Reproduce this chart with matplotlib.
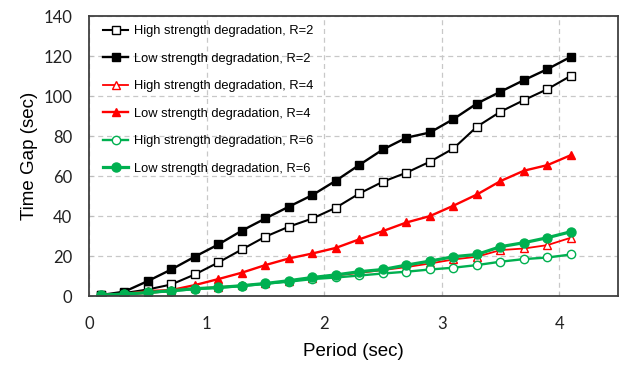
import matplotlib
matplotlib.use("Agg")
import matplotlib.pyplot as plt

# Period values (sec)
period = [0.1, 0.3, 0.5, 0.7, 0.9, 1.1, 1.3, 1.5, 1.7, 1.9, 2.1,
          2.3, 2.5, 2.7, 2.9, 3.1, 3.3, 3.5, 3.7, 3.9, 4.1]

# Time gap (sec)
high_r2 = [0.5, 1.5, 3.3, 5.8, 10.8, 16.8, 23.3, 29.7, 34.7, 38.8, 44.2,
           51.3, 57.2, 61.7, 67.2, 73.8, 84.7, 92.2, 98.0, 103.5, 110.2]
low_r2 = [0.5, 2.2, 7.5, 13.3, 19.7, 25.8, 32.7, 38.8, 44.7, 50.5, 57.7,
          65.6, 73.3, 79.2, 81.8, 88.5, 96.3, 102.2, 108.0, 113.5, 119.7]
high_r4 = [0.5, 0.8, 1.5, 2.5, 3.8, 4.5, 5.3, 6.3, 7.5, 9.0, 10.3,
           11.6, 13.0, 14.5, 16.3, 18.3, 19.7, 23.0, 23.8, 25.5, 29.2]
low_r4 = [0.5, 1.0, 2.5, 3.0, 5.5, 8.5, 11.7, 15.5, 18.8, 21.3, 24.1,
          28.4, 32.5, 36.8, 40.0, 45.2, 50.8, 57.5, 62.7, 65.5, 70.5]
high_r6 = [0.5, 1.0, 1.7, 2.5, 3.5, 4.2, 5.0, 6.2, 7.2, 8.5, 9.3,
           10.3, 11.3, 12.2, 13.3, 14.2, 15.5, 17.2, 18.5, 19.3, 20.8]
low_r6 = [0.5, 1.0, 1.8, 2.7, 3.7, 4.3, 5.2, 6.3, 7.7, 9.3, 10.6,
          12.2, 13.3, 15.5, 17.5, 19.7, 20.8, 24.7, 26.7, 29.2, 32.2]

labels = ["High strength degradation, R=2", "Low strength degradation, R=2",
          "High strength degradation, R=4", "Low strength degradation, R=4",
          "High strength degradation, R=6", "Low strength degradation, R=6"]

green = "#00B050"

fig = plt.figure(figsize=(6.22, 3.66), dpi=100)
ax = fig.add_axes([0.143, 0.191, 0.8506, 0.765])

ax.plot(period, high_r2, color="black", lw=1.5, marker="s", ms=6,
        mfc="white", mec="black", mew=1.0, label=labels[0])
ax.plot(period, low_r2, color="black", lw=1.7, marker="s", ms=6,
        mfc="black", mec="black", label=labels[1])
ax.plot(period, high_r4, color="red", lw=1.3, marker="^", ms=5.5,
        mfc="white", mec="red", mew=1.0, label=labels[2])
ax.plot(period, low_r4, color="red", lw=1.7, marker="^", ms=5.5,
        mfc="red", mec="red", label=labels[3])
ax.plot(period, high_r6, color=green, lw=1.7, marker="o", ms=6,
        mfc="white", mec=green, mew=1.0, label=labels[4])
ax.plot(period, low_r6, color=green, lw=2.3, marker="o", ms=6.5,
        mfc=green, mec=green, label=labels[5])

ax.set_xlim(0, 4.5)
ax.set_ylim(0, 140)
ax.set_xticks([0, 1, 2, 3, 4])
ax.set_yticks(range(0, 141, 20))
ax.grid(True, linestyle=(0, (4, 3)), color="#c8c8c8", lw=0.9)
ax.set_axisbelow(True)

for s in ax.spines.values():
    s.set_color("#404040")
    s.set_linewidth(1.3)

ax.tick_params(direction="in", length=3, color="#bbbbbb",
               labelsize=12, labelcolor="#222222")
ax.tick_params(axis="x", pad=14)
ax.tick_params(axis="y", pad=12)
for lab in ax.get_xticklabels() + ax.get_yticklabels():
    lab.set_fontfamily("Lato")

ax.set_xlabel("Period (sec)", fontsize=13.5, family="Liberation Sans", labelpad=8)
ax.set_ylabel("Time Gap (sec)", fontsize=13.5, family="Liberation Sans", labelpad=4)

leg = ax.legend(loc="upper left", frameon=False,
                prop={"family": "Liberation Sans", "size": 9.3},
                handlelength=1.9, handletextpad=0.5, labelspacing=1.2,
                borderaxespad=0.3, bbox_to_anchor=(0.01, 1.0))

fig.savefig("out.png", dpi=100)
